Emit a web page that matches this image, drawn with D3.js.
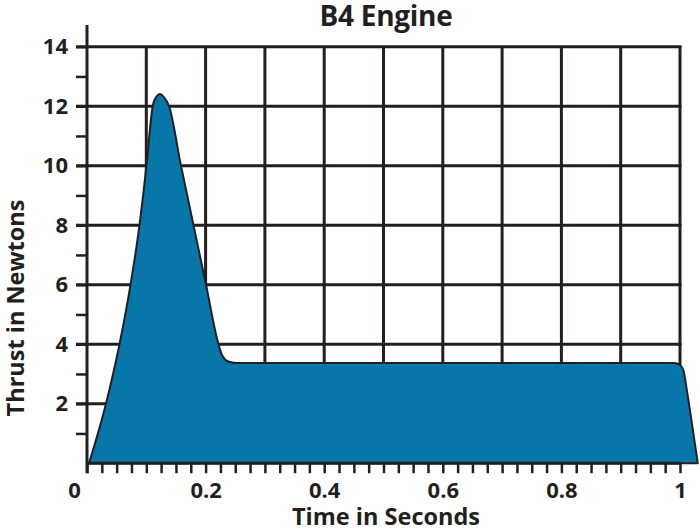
<!DOCTYPE html>
<html>
<head>
<meta charset="utf-8">
<script src="https://cdn.jsdelivr.net/npm/d3@7"></script>
<style>
  html, body { margin: 0; padding: 0; background: #ffffff; }
  svg { display: block; }
  text { font-family: "Open Sans", "DejaVu Sans", sans-serif; font-weight: 700; fill: #231f20; }
</style>
</head>
<body>
<svg id="chart" width="700" height="531"></svg>
<script>
// ---- data ----
const timeSeconds = [0.0034, 0.032, 0.0548, 0.0734, 0.0885, 0.1003, 0.1108, 0.117, 0.123, 0.129, 0.1383, 0.1585, 0.1796, 0.2007, 0.2217, 0.228, 0.238, 0.252, 0.40, 0.60, 0.80, 0.99, 1.000, 1.006, 1.012, 1.020, 1.030];
const thrustNewtons = [0, 2.0, 4.0, 6.0, 8.0, 10.0, 12.0, 12.32, 12.41, 12.32, 12.0, 10.0, 8.0, 6.0, 4.0, 3.62, 3.42, 3.37, 3.37, 3.37, 3.37, 3.37, 3.3, 3.1, 2.4, 1.35, 0];
const xTickLabels = ["0", "0.2", "0.4", "0.6", "0.8", "1"];
const yTickLabels = ["2", "4", "6", "8", "10", "12", "14"];
const titleText = "B4 Engine";
const xAxisTitle = "Time in Seconds";
const yAxisTitle = "Thrust in Newtons";

// ---- layout ----
const W = 700, H = 531;
const margin = { left: 87, right: 20, top: 46.7, bottom: 67.8 };
const ink = "#231f20";
const fillBlue = "#0777aa";

const svg = d3.select("#chart");
const x = d3.scaleLinear().domain([0, 1]).range([margin.left, W - margin.right]);
const y = d3.scaleLinear().domain([0, 14]).range([H - margin.bottom, margin.top]);

const points = timeSeconds.map((t, i) => [t, thrustNewtons[i]]);

// grid
const grid = svg.append("g");
grid.selectAll("line.v")
  .data(d3.range(1, 11).map(i => i / 10))
  .join("line")
  .attr("x1", d => x(d)).attr("x2", d => x(d))
  .attr("y1", y(0)).attr("y2", y(14))
  .attr("stroke", ink).attr("stroke-width", 3);
grid.selectAll("line.h")
  .data(yTickLabels.map(Number))
  .join("line")
  .attr("x1", x(0) - 11).attr("x2", x(1) + 1.5)
  .attr("y1", d => y(d)).attr("y2", d => y(d))
  .attr("stroke", ink).attr("stroke-width", 3);

// area
const area = d3.area()
  .x(d => x(d[0]))
  .y0(y(0))
  .y1(d => y(d[1]))
  .curve(d3.curveMonotoneX);
svg.append("path")
  .datum(points)
  .attr("d", area)
  .attr("fill", fillBlue)
  .attr("stroke", ink)
  .attr("stroke-width", 2)
  .attr("stroke-linejoin", "round");

// x axis (ticks every 0.025)
const xAxis = d3.axisBottom(x)
  .tickValues(d3.range(0, 41).map(i => i * 0.025))
  .tickSize(10)
  .tickFormat(d => {
    const k = Math.round(d * 1000);
    if (k % 200 === 0) return xTickLabels[k / 200];
    return "";
  });
const gx = svg.append("g")
  .attr("transform", `translate(0,${y(0)})`)
  .call(xAxis);
gx.select(".domain").remove();
gx.selectAll(".tick line").attr("stroke", ink).attr("stroke-width", 2.5);
gx.selectAll(".tick text")
  .attr("y", 19)
  .attr("font-size", 22)
  .style("font-family", "'Open Sans', sans-serif")
  .style("font-weight", 700)
  .attr("fill", ink)
  .attr("dx", d => (Math.abs(d) < 1e-9 ? -13 : 0));

// y axis (ticks every 1)
const yAxis = d3.axisLeft(y)
  .tickValues(d3.range(1, 15))
  .tickSize(11)
  .tickPadding(8)
  .tickFormat(d => (d % 2 === 0 ? yTickLabels[d / 2 - 1] : ""));
const gy = svg.append("g")
  .attr("transform", `translate(${x(0)},0)`)
  .call(yAxis);
gy.select(".domain").remove();
gy.selectAll(".tick line").attr("stroke", ink).attr("stroke-width", 2.5);
gy.selectAll(".tick text")
  .attr("font-size", 22)
  .style("font-family", "'Open Sans', sans-serif")
  .style("font-weight", 700)
  .attr("fill", ink);

// axis lines
svg.append("line")
  .attr("x1", x(0)).attr("x2", x(0))
  .attr("y1", 25).attr("y2", y(0) + 10)
  .attr("stroke", ink).attr("stroke-width", 3);
svg.append("line")
  .attr("x1", x(0)).attr("x2", x(1) + 1)
  .attr("y1", y(0)).attr("y2", y(0))
  .attr("stroke", ink).attr("stroke-width", 3);

// titles
svg.append("text")
  .attr("x", 386).attr("y", 26)
  .attr("text-anchor", "middle")
  .attr("font-size", 28)
  .attr("letter-spacing", -0.3)
  .text(titleText);
svg.append("text")
  .attr("x", 386).attr("y", 525)
  .attr("text-anchor", "middle")
  .attr("font-size", 23.5)
  .text(xAxisTitle);
svg.append("text")
  .attr("transform", "translate(24,308) rotate(-90)")
  .attr("text-anchor", "middle")
  .attr("font-size", 23.5)
  .text(yAxisTitle);
</script>
</body>
</html>
